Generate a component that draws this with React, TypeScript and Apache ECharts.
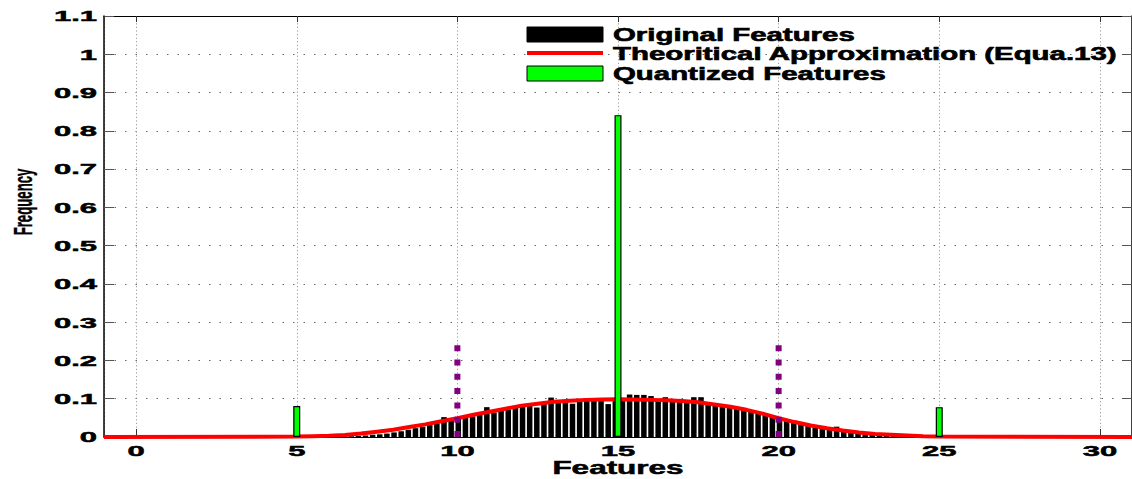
import React, { useEffect, useRef } from "react";
import * as echarts from "echarts";

// Histogram of the original features: bins of equal width starting at binStart
const binStart = 5.14;
const binWidth = 0.2222;
const originalFreq = [
  0.0, 0.0, 0.001, 0.001, 0.001, 0.001, 0.002, 0.002, 0.003, 0.004,
  0.006, 0.007, 0.009, 0.012, 0.015, 0.019, 0.023, 0.027, 0.031, 0.036,
  0.052, 0.044, 0.047, 0.05, 0.054, 0.058, 0.078, 0.064, 0.068, 0.072,
  0.076, 0.079, 0.083, 0.077, 0.088, 0.103, 0.092, 0.093, 0.087, 0.095,
  0.096, 0.097, 0.097, 0.086, 0.098, 0.099, 0.111, 0.11, 0.11, 0.107,
  0.097, 0.104, 0.096, 0.093, 0.092, 0.104, 0.104, 0.088, 0.084, 0.081,
  0.078, 0.075, 0.071, 0.067, 0.063, 0.058, 0.053, 0.048, 0.043, 0.039,
  0.035, 0.031, 0.027, 0.024, 0.021, 0.027, 0.016, 0.013, 0.011, 0.009,
  0.007, 0.006, 0.005, 0.004, 0.003, 0.002, 0.002, 0.001, 0.001, 0.0,
];

// Theoretical approximation (Equa.13), sampled
const curveX = [
  -1, 5, 5.5, 6, 6.5, 7, 7.5, 8, 8.5, 9, 9.5, 10, 10.5, 11, 11.5, 12, 12.5,
  13, 13.5, 14, 14.5, 15, 15.5, 16, 16.5, 17, 17.5, 18, 18.5, 19, 19.5, 20,
  20.5, 21, 21.5, 22, 22.5, 23, 23.5, 24, 24.5, 25, 31,
];
const curveY = [
  0, 0.001, 0.002, 0.003, 0.005, 0.009, 0.014, 0.019, 0.026, 0.033, 0.041,
  0.049, 0.058, 0.066, 0.074, 0.082, 0.087, 0.092, 0.095, 0.097, 0.098,
  0.0985, 0.098, 0.097, 0.096, 0.094, 0.091, 0.085, 0.079, 0.071, 0.061,
  0.049, 0.039, 0.03, 0.023, 0.017, 0.012, 0.008, 0.006, 0.004, 0.002, 0.001,
  0,
];

// Quantized features
const quantLevels = [5, 15, 25];
const quantFreq = [0.081, 0.841, 0.078];

// Decision thresholds
const thresholds = [10, 20];
const thresholdHeight = 0.24;

// Tick labels
const xTicks = [0, 5, 10, 15, 20, 25, 30];
const yTicks = [0, 0.1, 0.2, 0.3, 0.4, 0.5, 0.6, 0.7, 0.8, 0.9, 1, 1.1];
const yTickLabels = ["0", "0.1", "0.2", "0.3", "0.4", "0.5", "0.6", "0.7", "0.8", "0.9", "1", "1.1"];

const legendNames = [
  "Original Features",
  "Theoritical Approximation (Equa.13)",
  "Quantized Features",
];

const FONT = '"Liberation Sans", Arial, Helvetica, sans-serif';

export default function App() {
  const ref = useRef<HTMLDivElement>(null);

  useEffect(() => {
    if (!ref.current) return;
    const chart = echarts.init(ref.current, null, { renderer: "svg" });

    const barData = originalFreq.map((v, i) => [binStart + binWidth * i, v]);
    const curveData = curveX.map((x, i) => [x, curveY[i]]);
    const quantData = quantLevels.map((x, i) => [x, quantFreq[i]]);

    const baseX = {
      type: "value",
      min: -1,
      max: 31,
      axisLabel: { show: false },
      axisLine: { show: true, onZero: false, lineStyle: { color: "#000", width: 1 } },
      axisTick: { show: true, inside: true, length: 8, lineStyle: { color: "#333" } },
    };

    const baseY = {
      type: "value",
      min: 0,
      max: 1.1,
      interval: 0.1,
      axisLabel: { show: false },
      axisLine: { show: true, onZero: false, lineStyle: { color: "#000", width: 1.5 } },
      axisTick: { show: true, inside: true, length: 10, lineStyle: { color: "#555" } },
    };

    const option: any = {
      animation: false,
      backgroundColor: "#fff",
      grid: { left: 104, top: 16, width: 1029, height: 421, containLabel: false },
      xAxis: [
        {
          ...baseX,
          position: "bottom",
          splitLine: { show: true, lineStyle: { color: "#9a9a9a", width: 1, type: [1.2, 2.4] } },
        },
        {
          ...baseX,
          position: "top",
          axisTick: { show: true, inside: true, length: 6, lineStyle: { color: "#333" } },
          splitLine: { show: false },
        },
      ],
      yAxis: [
        {
          ...baseY,
          position: "left",
          splitLine: { show: true, lineStyle: { color: "#666", width: 1, type: [1.5, 9] } },
        },
        {
          ...baseY,
          position: "right",
          splitLine: { show: false },
        },
      ],
      series: [
        {
          name: legendNames[0],
          type: "bar",
          xAxisIndex: 0,
          yAxisIndex: 0,
          data: barData,
          barWidth: 5.5,
          itemStyle: { color: "#000" },
          z: 2,
        },
        {
          name: legendNames[1],
          type: "line",
          xAxisIndex: 0,
          yAxisIndex: 0,
          data: curveData,
          symbol: "none",
          showSymbol: false,
          smooth: false,
          lineStyle: { color: "#ff0000", width: 4 },
          z: 3,
        },
        {
          name: legendNames[2],
          type: "bar",
          xAxisIndex: 1,
          yAxisIndex: 0,
          data: quantData,
          barWidth: 7,
          itemStyle: { color: "#00ff00", borderColor: "#000", borderWidth: 1.2 },
          z: 4,
        },
        ...thresholds.map((t) => ({
          type: "line",
          xAxisIndex: 0,
          yAxisIndex: 0,
          data: [
            [t, 0],
            [t, thresholdHeight],
          ],
          symbol: "none",
          showSymbol: false,
          lineStyle: { color: "#800080", width: 6, type: [6, 8.3], cap: "butt" },
          z: 5,
        })),
      ],
    };

    chart.setOption(option);

    const textStyle = (text: string, align: string, font: string, heavy: number) => ({
      text,
      fill: "#000",
      stroke: heavy > 0 ? "#000" : undefined,
      lineWidth: heavy,
      font,
      align,
      textAlign: align,
      verticalAlign: "middle",
      textVerticalAlign: "middle",
    });

    const graphics: any[] = [];
    xTicks.forEach((v) => {
      const p = chart.convertToPixel({ xAxisIndex: 0, yAxisIndex: 0 }, [v, 0]) as number[];
      graphics.push({
        type: "text",
        x: p[0],
        y: p[1] + 14,
        scaleX: 2,
        style: textStyle(String(v), "center", `bold 15.5px ${FONT}`, 0.5),
        z: 10,
      });
    });
    yTicks.forEach((v, i) => {
      const p = chart.convertToPixel({ xAxisIndex: 0, yAxisIndex: 0 }, [-1, v]) as number[];
      graphics.push({
        type: "text",
        x: p[0] - 7,
        y: p[1],
        scaleX: 2,
        style: textStyle(yTickLabels[i], "right", `bold 15.5px ${FONT}`, 0.5),
        z: 10,
      });
    });

    // axis titles
    const mid = chart.convertToPixel({ xAxisIndex: 0, yAxisIndex: 0 }, [15, 0]) as number[];
    graphics.push({
      type: "text",
      x: mid[0],
      y: mid[1] + 31,
      scaleX: 1.75,
      style: textStyle("Features", "center", `bold 18px ${FONT}`, 0.5),
      z: 10,
    });
    graphics.push({
      type: "text",
      x: 23,
      y: 202,
      rotation: Math.PI / 2,
      scaleY: 1.95,
      style: textStyle("Frequency", "center", `bold 13.2px ${FONT}`, 0.2),
      z: 10,
    });

    // legend
    const legendX = 527;
    const swatchW = 76;
    const rowY = [35, 54, 74];
    graphics.push({
      type: "rect",
      shape: { x: legendX, y: rowY[0] - 8, width: swatchW, height: 15 },
      style: { fill: "#000", stroke: "#000", lineWidth: 1 },
      z: 10,
    });
    graphics.push({
      type: "line",
      shape: { x1: legendX, y1: rowY[1] - 1, x2: legendX + swatchW, y2: rowY[1] - 1 },
      style: { stroke: "#ff0000", lineWidth: 4 },
      z: 10,
    });
    graphics.push({
      type: "rect",
      shape: { x: legendX, y: rowY[2] - 8, width: swatchW, height: 15 },
      style: { fill: "#00ff00", stroke: "#000", lineWidth: 1 },
      z: 10,
    });
    legendNames.forEach((name, i) => {
      graphics.push({
        type: "text",
        x: 613,
        y: rowY[i],
        scaleX: 1.68,
        style: textStyle(name, "left", `bold 17.5px ${FONT}`, 0.6),
        z: 10,
      });
    });

    chart.setOption({ graphic: graphics });

    return () => chart.dispose();
  }, []);

  return (
    <div
      ref={ref}
      style={{ position: "absolute", left: 0, top: 0, width: 1132, height: 479, background: "#fff" }}
    />
  );
}
